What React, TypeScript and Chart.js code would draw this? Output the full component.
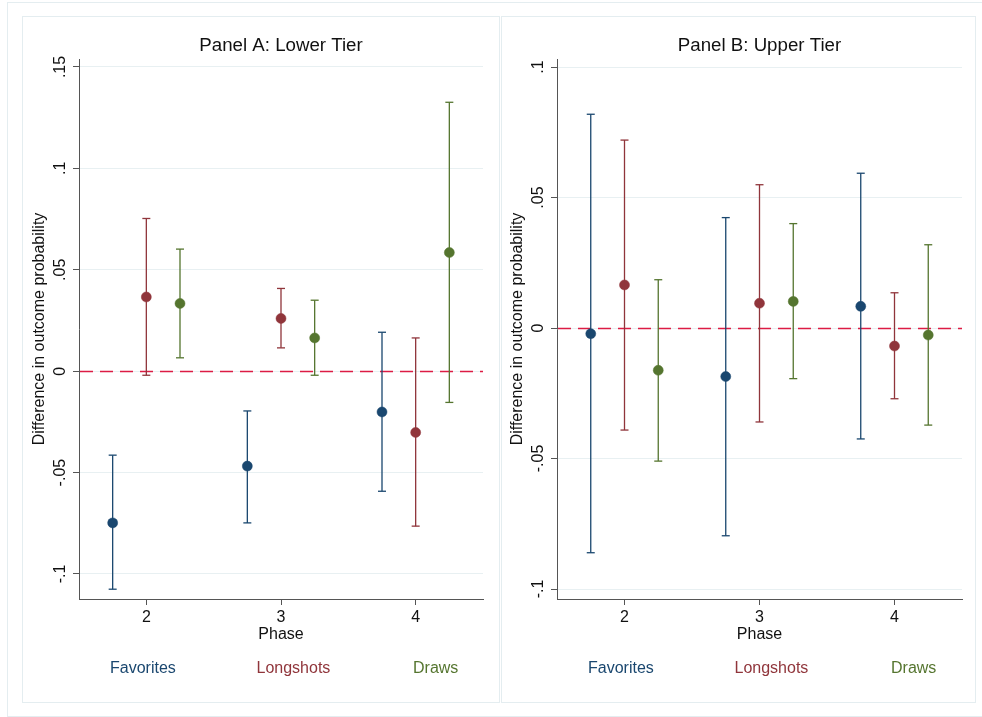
import React, { useEffect, useRef } from "react";
import { Chart, registerables } from "chart.js";

Chart.register(...registerables);

// ---------------- data ----------------
const PHASES = [2, 3, 4];
const SERIES_NAMES = ["Favorites", "Longshots", "Draws"];
const SERIES_OFFSETS = [-0.25, 0, 0.25];
const SERIES_COLORS = ["#1a476f", "#90353b", "#55752f"];

// Panel A: Lower Tier
const A_FAV_EST = [-0.0748, -0.0468, -0.0201];
const A_FAV_LO = [-0.1075, -0.0748, -0.0592];
const A_FAV_HI = [-0.0414, -0.0196, 0.0192];
const A_LONG_EST = [0.0366, 0.026, -0.0302];
const A_LONG_LO = [-0.002, 0.0115, -0.0764];
const A_LONG_HI = [0.0753, 0.0408, 0.0164];
const A_DRAW_EST = [0.0334, 0.0164, 0.0585];
const A_DRAW_LO = [0.0066, -0.002, -0.0154];
const A_DRAW_HI = [0.0602, 0.035, 0.1326];
const A_Y_TICKS = [-0.1, -0.05, 0, 0.05, 0.1, 0.15];
const A_Y_LABELS = ["-.1", "-.05", "0", ".05", ".1", ".15"];
const A_Y_RANGE = [-0.11233, 0.15394];

// Panel B: Upper Tier
const B_FAV_EST = [-0.0022, -0.0186, 0.0083];
const B_FAV_LO = [-0.0861, -0.0796, -0.0425];
const B_FAV_HI = [0.0819, 0.0423, 0.0593];
const B_LONG_EST = [0.0165, 0.0095, -0.0069];
const B_LONG_LO = [-0.0391, -0.036, -0.0271];
const B_LONG_HI = [0.072, 0.0549, 0.0135];
const B_DRAW_EST = [-0.0162, 0.0102, -0.0027];
const B_DRAW_LO = [-0.051, -0.0194, -0.0372];
const B_DRAW_HI = [0.0185, 0.04, 0.0319];
const B_Y_TICKS = [-0.1, -0.05, 0, 0.05, 0.1];
const B_Y_LABELS = ["-.1", "-.05", "0", ".05", ".1"];
const B_Y_RANGE = [-0.10383, 0.10307];

const X_RANGE = [1.5, 4.5];
const X_TICK_LABELS = ["2", "3", "4"];
const REF_LINE_Y = 0;

const X_TITLE = "Phase";
const Y_TITLE = "Difference in outcome probability";

// ---------------- styles ----------------
const FONT = '"Liberation Sans", Arial, Helvetica, sans-serif';
const TEXT_COLOR = "#111";
const AXIS_COLOR = "#555";
const GRID_COLOR = "#e8f0f2";
const FRAME_COLOR = "#e4edf0";
const REF_COLOR = "#dc1c44";
const H = 687;

type PanelCfg = {
  title: string;
  est: number[][];
  lo: number[][];
  hi: number[][];
  yTicks: number[];
  yLabels: string[];
  yRange: number[];
  left: number;
  width: number;
  chartLeft: number;
  chartRight: number;
};

const decorPlugin = {
  id: "decor",
  beforeDraw(chart: any, _args: any, opts: any) {
    const { ctx, width, height } = chart;
    ctx.save();
    ctx.fillStyle = "#fff";
    ctx.fillRect(0, 0, width, height);
    ctx.strokeStyle = FRAME_COLOR;
    ctx.lineWidth = 1;
    ctx.strokeRect(0.5, 0.5, width - 1, height - 1);
    ctx.restore();
  },
  beforeDatasetsDraw(chart: any) {
    const { ctx, chartArea } = chart;
    const y = Math.round(chart.scales.y.getPixelForValue(REF_LINE_Y)) + 0.5;
    ctx.save();
    ctx.strokeStyle = REF_COLOR;
    ctx.lineWidth = 1.5;
    ctx.setLineDash([13, 7]);
    ctx.beginPath();
    ctx.moveTo(chartArea.left + 1, y);
    ctx.lineTo(chartArea.right, y);
    ctx.stroke();
    ctx.restore();
  },
  afterDraw(chart: any, _args: any, opts: any) {
    const { ctx, chartArea } = chart;
    const xs = chart.scales.x;
    const ys = chart.scales.y;
    const cx = (chartArea.left + chartArea.right) / 2;
    const cy = (chartArea.top + chartArea.bottom) / 2;
    ctx.save();
    ctx.fillStyle = TEXT_COLOR;
    // title
    ctx.font = `18.7px ${FONT}`;
    ctx.textAlign = "center";
    ctx.textBaseline = "alphabetic";
    ctx.fillText(opts.title, cx, 35);
    // x tick labels
    ctx.font = `16px ${FONT}`;
    xs.ticks.forEach((t: any, i: number) => {
      const x = xs.getPixelForValue(t.value);
      const idx = PHASES.indexOf(t.value);
      ctx.fillText(X_TICK_LABELS[idx >= 0 ? idx : i], x, chartArea.bottom + 23);
    });
    // x title
    ctx.fillText(X_TITLE, cx, chartArea.bottom + 40);
    // y tick labels (rotated)
    ys.ticks.forEach((t: any) => {
      const y = ys.getPixelForValue(t.value);
      const idx = opts.yTicks.findIndex((v: number) => Math.abs(v - t.value) < 1e-9);
      const lab = idx >= 0 ? opts.yLabels[idx] : String(t.value);
      ctx.save();
      ctx.translate(chartArea.left - 14, y);
      ctx.rotate(-Math.PI / 2);
      ctx.textAlign = "center";
      ctx.fillText(lab, 0, 0);
      ctx.restore();
    });
    // y title
    ctx.save();
    ctx.translate(chartArea.left - 35.5, cy);
    ctx.rotate(-Math.PI / 2);
    ctx.textAlign = "center";
    ctx.fillText(Y_TITLE, 0, 0);
    ctx.restore();
    // legend
    const legendOffsets = [31, 177.5, 334];
    ctx.textAlign = "left";
    SERIES_NAMES.forEach((name, i) => {
      ctx.fillStyle = SERIES_COLORS[i];
      ctx.fillText(name, chartArea.left + legendOffsets[i], chartArea.bottom + 74);
    });
    ctx.restore();
  },
};

function buildConfig(cfg: PanelCfg): any {
  const datasets: any[] = [];
  SERIES_NAMES.forEach((name, s) => {
    const off = SERIES_OFFSETS[s];
    const color = SERIES_COLORS[s];
    const ci: any[] = [];
    PHASES.forEach((p, i) => {
      ci.push({ x: p + off, y: cfg.lo[s][i] });
      ci.push({ x: p + off, y: cfg.hi[s][i] });
      ci.push({ x: p + off, y: null });
    });
    datasets.push({
      label: name + " CI",
      data: ci,
      showLine: true,
      spanGaps: false,
      borderColor: color,
      borderWidth: 1.3,
      pointStyle: "line",
      pointRadius: 4,
      pointBorderColor: color,
      pointBorderWidth: 1.3,
      order: 2,
    });
  });
  SERIES_NAMES.forEach((name, s) => {
    const off = SERIES_OFFSETS[s];
    const color = SERIES_COLORS[s];
    datasets.push({
      label: name,
      data: PHASES.map((p, i) => ({ x: p + off, y: cfg.est[s][i] })),
      showLine: false,
      pointStyle: "circle",
      pointRadius: 5,
      pointBackgroundColor: color,
      pointBorderColor: color,
      pointBorderWidth: 0.5,
      order: 1,
    });
  });

  return {
    type: "scatter",
    data: { datasets },
    plugins: [decorPlugin],
    options: {
      responsive: false,
      animation: false,
      devicePixelRatio: 1,
      events: [],
      layout: {
        padding: { top: 43, right: cfg.width - cfg.chartRight, bottom: 0, left: 0 },
      },
      plugins: {
        legend: { display: false },
        tooltip: { enabled: false },
        title: { display: false },
        decor: { title: cfg.title, yTicks: cfg.yTicks, yLabels: cfg.yLabels },
      },
      scales: {
        x: {
          type: "linear",
          position: "bottom",
          min: X_RANGE[0],
          max: X_RANGE[1],
          afterBuildTicks: (scale: any) => {
            scale.ticks = PHASES.map((v) => ({ value: v }));
          },
          afterFit: (scale: any) => {
            scale.height = H - 583;
          },
          ticks: { display: false },
          grid: {
            display: true,
            drawOnChartArea: false,
            drawTicks: true,
            tickLength: 6,
            tickColor: AXIS_COLOR,
            color: AXIS_COLOR,
            lineWidth: 1,
          },
          border: { display: true, color: AXIS_COLOR, width: 1 },
        },
        y: {
          type: "linear",
          position: "left",
          min: cfg.yRange[0],
          max: cfg.yRange[1],
          afterBuildTicks: (scale: any) => {
            scale.ticks = cfg.yTicks.map((v) => ({ value: v }));
          },
          afterFit: (scale: any) => {
            scale.width = cfg.chartLeft;
          },
          ticks: { display: false },
          grid: {
            display: true,
            drawOnChartArea: true,
            drawTicks: true,
            tickLength: 6,
            tickColor: AXIS_COLOR,
            color: GRID_COLOR,
            lineWidth: 1,
          },
          border: { display: true, color: AXIS_COLOR, width: 1 },
        },
      },
    },
  };
}

function Panel({ cfg }: { cfg: PanelCfg }) {
  const ref = useRef<HTMLCanvasElement>(null);
  useEffect(() => {
    if (!ref.current) return;
    const chart = new Chart(ref.current, buildConfig(cfg));
    return () => chart.destroy();
  }, [cfg]);
  return (
    <canvas
      ref={ref}
      width={cfg.width}
      height={H}
      style={{ position: "absolute", left: cfg.left, top: 16, width: cfg.width, height: H }}
    />
  );
}

const PANEL_A: PanelCfg = {
  title: "Panel A: Lower Tier",
  est: [A_FAV_EST, A_LONG_EST, A_DRAW_EST],
  lo: [A_FAV_LO, A_LONG_LO, A_DRAW_LO],
  hi: [A_FAV_HI, A_LONG_HI, A_DRAW_HI],
  yTicks: A_Y_TICKS,
  yLabels: A_Y_LABELS,
  yRange: A_Y_RANGE,
  left: 22,
  width: 478,
  chartLeft: 57,
  chartRight: 461,
};

const PANEL_B: PanelCfg = {
  title: "Panel B: Upper Tier",
  est: [B_FAV_EST, B_LONG_EST, B_DRAW_EST],
  lo: [B_FAV_LO, B_LONG_LO, B_DRAW_LO],
  hi: [B_FAV_HI, B_LONG_HI, B_DRAW_HI],
  yTicks: B_Y_TICKS,
  yLabels: B_Y_LABELS,
  yRange: B_Y_RANGE,
  left: 501,
  width: 475,
  chartLeft: 56,
  chartRight: 461,
};

export default function App() {
  return (
    <div
      style={{
        position: "fixed",
        left: 0,
        top: 0,
        width: 982,
        height: 717,
        background: "#fff",
        overflow: "hidden",
      }}
    >
      <div
        style={{
          position: "absolute",
          left: 7,
          top: 2,
          width: 985,
          height: 715,
          border: `1px solid ${FRAME_COLOR}`,
          boxSizing: "border-box",
        }}
      />
      <Panel cfg={PANEL_A} />
      <Panel cfg={PANEL_B} />
    </div>
  );
}
